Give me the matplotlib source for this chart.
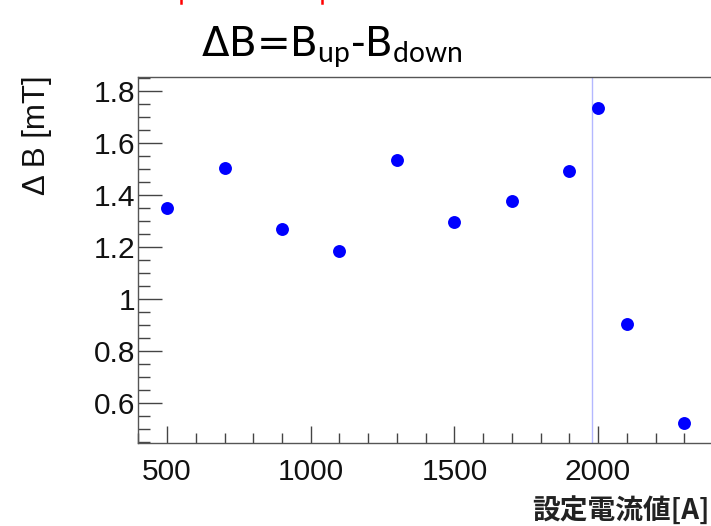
import matplotlib
matplotlib.use('Agg')
import matplotlib.pyplot as plt
from matplotlib.ticker import MultipleLocator
from matplotlib.lines import Line2D

# ---- data ----
current = [500, 700, 900, 1100, 1300, 1500, 1700, 1900, 2000, 2100, 2300]
delta_b = [1.349, 1.503, 1.270, 1.185, 1.533, 1.296, 1.377, 1.491, 1.732, 0.904, 0.523]
marker_line = 1980

plt.rcParams['mathtext.fontset'] = 'custom'
plt.rcParams['mathtext.rm'] = 'Lato'
plt.rcParams['mathtext.it'] = 'Lato'

W, H = 711, 526
fig = plt.figure(figsize=(W / 100, H / 100), dpi=100)
fig.patch.set_facecolor('white')

# right edge of the frame runs off the picture, like the original crop
ax = fig.add_axes([138.3 / W, 1 - 442.7 / H, (713 - 138.3) / W, (442.7 - 76.7) / H])

ax.axvline(marker_line, color='#b4b8ff', linewidth=1.0, zorder=1)
ax.plot(current, delta_b, 'o', color='#0000ff', markersize=9.3,
        markeredgewidth=0, zorder=3)

ax.set_xlim(400, 2400)
ax.set_ylim(0.449, 1.854)

ax.xaxis.set_major_locator(MultipleLocator(500))
ax.xaxis.set_minor_locator(MultipleLocator(100))
ax.yaxis.set_major_locator(MultipleLocator(0.2))
ax.yaxis.set_minor_locator(MultipleLocator(0.05))
ax.yaxis.set_major_formatter(plt.FuncFormatter(lambda v, p: f'{v:g}'))

ax.tick_params(axis='both', which='both', direction='in', color='#444444',
               width=1.0, labelsize=21.5, labelcolor='#111111')
ax.tick_params(axis='x', which='major', length=12, pad=11)
ax.tick_params(axis='x', which='minor', length=7)
ax.tick_params(axis='y', which='major', length=17, pad=2)
ax.tick_params(axis='y', which='minor', length=8.5)
for lab in ax.get_xticklabels() + ax.get_yticklabels():
    lab.set_fontfamily('Liberation Sans')

for spine in ax.spines.values():
    spine.set_color('#555555')
    spine.set_linewidth(1.0)

# axis titles
fig.text(37 / W, 1 - 75 / H, 'Δ B [mT]', rotation=90, ha='center', va='top',
         fontsize=22.5, family='Liberation Sans', color='#111111')
fig.text(710 / W, 1 - 525 / H, '設定電流値[A]', ha='right', va='bottom',
         fontsize=20, fontweight='bold', color='#222222',
         family=['Noto Sans CJK JP', 'DejaVu Sans'])

# slide title
fig.text(332 / W, 1 - 57 / H, 'ΔB=B$_{\\mathrm{up}}$-B$_{\\mathrm{down}}$',
         ha='center', va='baseline', fontsize=29, color='black')

# red arrow tips cut off at the top edge
for xp in (181, 322):
    fig.add_artist(Line2D([xp / W, xp / W], [1, 1 - 2.5 / H], color='red',
                          linewidth=1.8, transform=fig.transFigure))

fig.savefig('out.png', dpi=100)
